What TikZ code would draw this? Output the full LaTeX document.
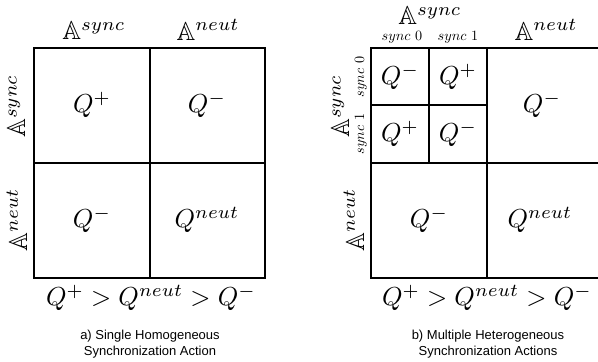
\documentclass[tikz,border=0pt]{standalone}
\usepackage{amssymb}
\usepackage{fontspec}
\newfontfamily\capfont{Liberation Sans}
\newcommand{\qbig}[1]{\scalebox{2.6}{$#1$}}
\newcommand{\axbig}[1]{\scalebox{2.6}{$\mathbb{A}^{#1}$}}
\newcommand{\subsm}[1]{\scalebox{1.42}{$#1$}}
\begin{document}
\begin{tikzpicture}[x=1pt,y=-1pt,
  gridline/.style={line width=1.8pt},
  qlab/.style={inner sep=0pt},
  axlab/.style={inner sep=0pt},
  sublab/.style={inner sep=0pt},
  caplab/.style={inner sep=0pt,align=center,font=\capfont\fontsize{13}{16}\selectfont}]
\useasboundingbox (0,0) rectangle (598,362);
% ---------- left grid ----------
\draw[gridline] (34,48) rectangle (265,278);
\draw[gridline] (150,48) -- (150,278);
\draw[gridline] (34,163) -- (265,163);
\node[axlab] (la1) at (94,31) {\axbig{sync}};
\node[axlab] (la2) at (208,30) {\axbig{neut}};
\node[axlab,rotate=90] (la3) at (17,106) {\axbig{sync}};
\node[axlab,rotate=90] (la4) at (17,220) {\axbig{neut}};
\node[qlab] (lq1) at (92,105) {\qbig{Q^{+}}};
\node[qlab] (lq2) at (207,105) {\qbig{Q^{-}}};
\node[qlab] (lq3) at (92,220) {\qbig{Q^{-}}};
\node[qlab] (lq4) at (207,220) {\qbig{Q^{neut}}};
\node[qlab] (lf) at (151,298) {\qbig{Q^{+} > Q^{neut} > Q^{-}}};
\node[caplab] (lc) at (150,344) {a) Single Homogeneous\\Synchronization Action};
% ---------- right grid ----------
\draw[gridline] (371,48) rectangle (602,278);
\draw[gridline] (487,48) -- (487,278);
\draw[gridline] (371,163) -- (602,163);
\draw[gridline] (429,48) -- (429,163);
\draw[gridline] (371,105) -- (487,105);
\node[axlab] (ra1) at (430,16) {\axbig{sync}};
\node[sublab] (rs0) at (402,37) {\subsm{sync\ 0}};
\node[sublab] (rs1) at (458,37) {\subsm{sync\ 1}};
\node[axlab] (ra2) at (546,30) {\axbig{neut}};
\node[axlab,rotate=90] (ra3) at (341,106) {\axbig{sync}};
\node[sublab,rotate=90] (rs2) at (361,77) {\subsm{sync\ 0}};
\node[sublab,rotate=90] (rs3) at (361,134) {\subsm{sync\ 1}};
\node[axlab,rotate=90] (ra4) at (354,220) {\axbig{neut}};
\node[qlab] (rq1) at (400,77) {\qbig{Q^{-}}};
\node[qlab] (rq2) at (458,77) {\qbig{Q^{+}}};
\node[qlab] (rq3) at (400,134) {\qbig{Q^{+}}};
\node[qlab] (rq4) at (458,134) {\qbig{Q^{-}}};
\node[qlab] (rq5) at (542,105) {\qbig{Q^{-}}};
\node[qlab] (rq6) at (429,220) {\qbig{Q^{-}}};
\node[qlab] (rq7) at (540,220) {\qbig{Q^{neut}}};
\node[qlab] (rf) at (487,298) {\qbig{Q^{+} > Q^{neut} > Q^{-}}};
\node[caplab] (rc) at (488,344) {b) Multiple Heterogeneous\\Synchronization Actions};
\end{tikzpicture}
\end{document}
